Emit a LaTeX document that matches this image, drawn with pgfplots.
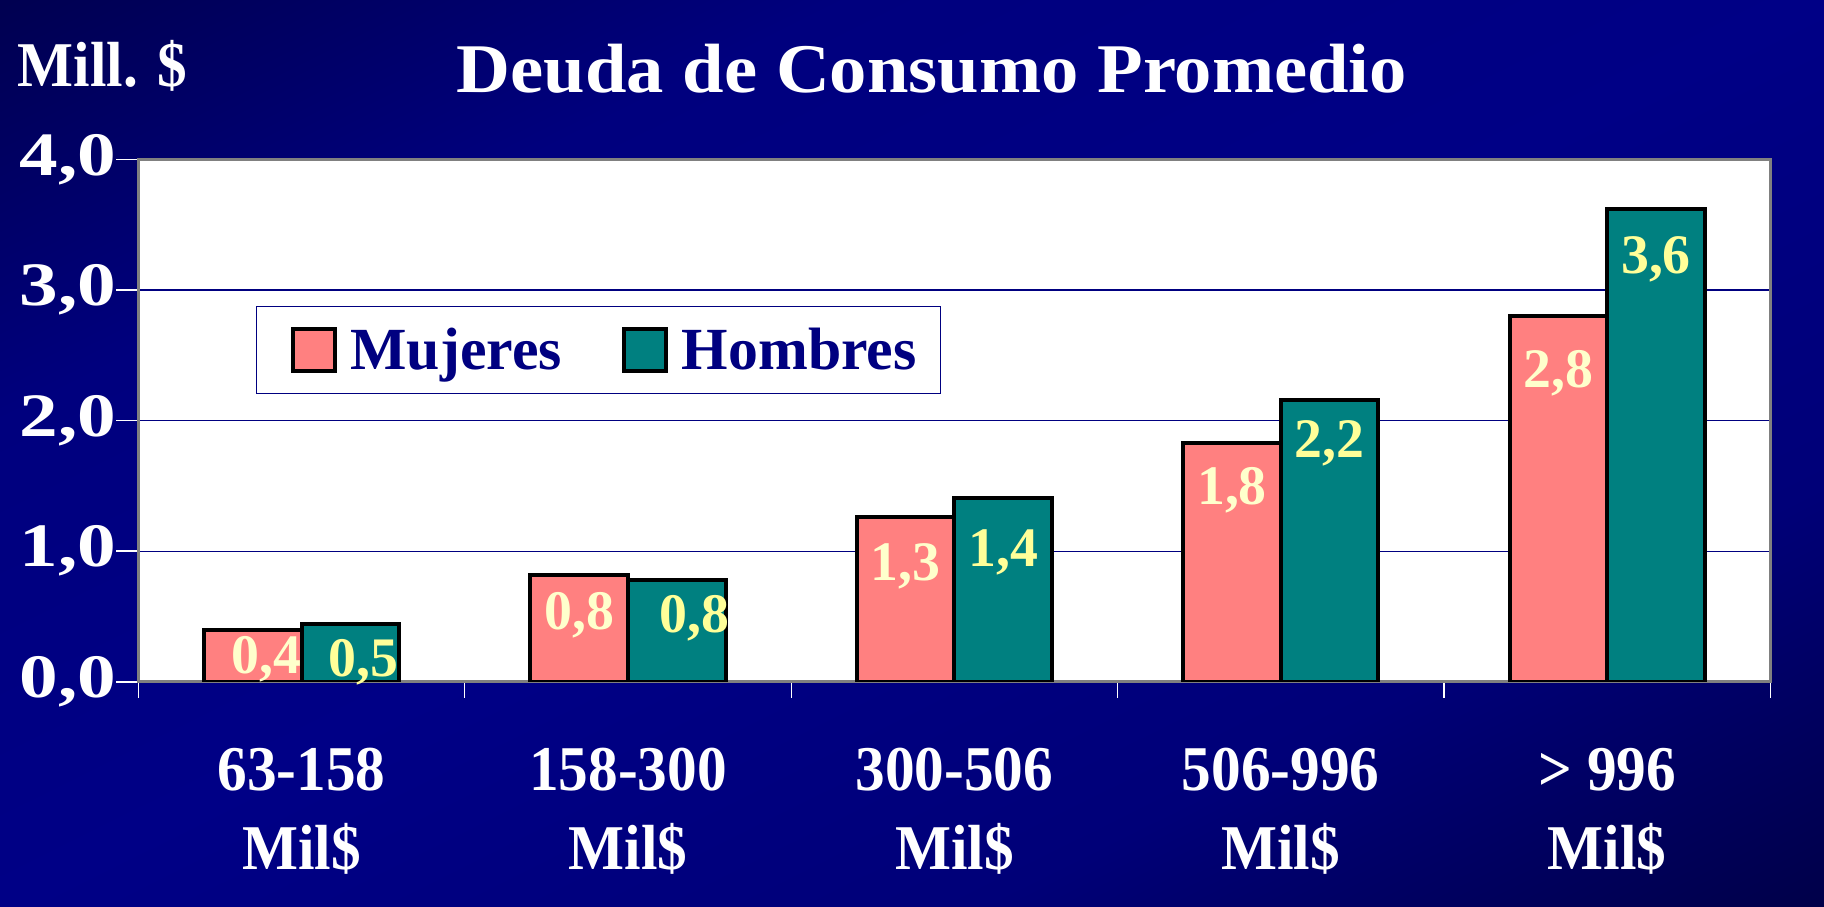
\documentclass[border=0pt]{standalone}
\usepackage{fontspec}
\setmainfont{Liberation Serif}
\newfontfamily\widefont[FakeStretch=1.25]{Liberation Serif}
\newfontfamily\titlefont[FakeStretch=1.07]{Liberation Serif}
\newfontfamily\narrowfont[FakeStretch=0.93]{Liberation Serif}
\usepackage{pgfplots}
\pgfplotsset{compat=1.18}
\usepackage{pgfplotstable}
\definecolor{navy}{HTML}{000080}
\definecolor{pinkbar}{HTML}{FF8080}
\definecolor{tealbar}{HTML}{008080}
\definecolor{lblpink}{HTML}{FFFFCC}
\definecolor{lblteal}{HTML}{FFFF99}
\definecolor{bgA}{HTML}{000024}
\definecolor{bgB}{HTML}{000036}
\definecolor{bgC}{HTML}{000078}
\definecolor{bgD}{HTML}{000086}
\definecolor{bgE}{HTML}{00007E}
\definecolor{bgF}{HTML}{00003E}
\definecolor{bgG}{HTML}{00002C}
\pgfdeclareverticalshading{bgshade}{100bp}{color(0bp)=(bgA); color(10bp)=(bgB); color(32bp)=(bgC); color(50bp)=(bgD); color(68bp)=(bgE); color(90bp)=(bgF); color(100bp)=(bgG)}

\pgfplotstableread{
x y lab dx dy
0 0.40 0,4 7 0.7
1 0.82 0,8 0 -4.5
2 1.26 1,3 0 -8.6
3 1.83 1,8 0 -8
4 2.80 2,8 0 -12.6
}\mujeres
\pgfplotstableread{
x y lab dx dy
0 0.44 0,5 6.4 -3.4
1 0.78 0,8 9 -3.4
2 1.41 1,4 0 -11.5
3 2.16 2,2 0 -6.3
4 3.62 3,6 0 -9.2
}\hombres

\pgfplotsset{mylegend/.style={legend image code/.code={%
  \path (-7bp,0bp) (26bp,0bp);
  \draw[##1, draw=black, line width=2bp] (0bp,-10.5bp) rectangle (21bp,10.5bp);}}}

\begin{document}
\begin{tikzpicture}
\shade[shading=bgshade, shading angle=26.4] (0,0) rectangle (912bp,453.5bp);
\node[anchor=base west, text=white, font=\narrowfont\fontsize{32}{32}\selectfont\bfseries, inner sep=0] at (8.7bp,410bp) {Mill. \$};
\node[anchor=base, text=white, font=\titlefont\fontsize{35}{35}\selectfont\bfseries, inner sep=0] at (466bp,407bp) {Deuda de Consumo Promedio};
\begin{axis}[
  at={(69.2bp,112.6bp)}, anchor=south west,
  scale only axis, width=816bp, height=261.2bp,
  xmin=-0.5, xmax=4.5, ymin=0, ymax=4,
  ybar=0pt, bar width=48.8bp,
  axis background/.style={fill=white},
  axis line style={draw=gray, line width=1.5bp},
  ymajorgrids, grid style={navy, line width=0.6bp},
  tick align=outside, tick pos=left,
  major tick length=11bp, minor tick length=8bp,
  xtick={0,1,2,3,4},
  xticklabels={{63-158\\Mil\$},{158-300\\Mil\$},{300-506\\Mil\$},{506-996\\Mil\$},{> 996\\Mil\$}},
  minor xtick={-0.5,0.5,1.5,2.5,3.5,4.5},
  major x tick style={draw=none},
  minor x tick style={draw=white, line width=0.6bp},
  ytick={0,1,2,3,4},
  yticklabels={{0,0},{1,0},{2,0},{3,0},{4,0}},
  y tick style={draw=white, line width=0.75bp},
  yticklabel style={font=\widefont\fontsize{31}{31}\selectfont\bfseries, text=white, inner sep=0pt},
  xticklabel style={align=center, text=white, font=\narrowfont\fontsize{32}{39.5}\selectfont\bfseries, anchor=north, inner sep=0pt, yshift=-22bp},
  legend style={at={(0.072,0.719)}, anchor=north west, draw=navy, line width=0.6bp, fill=white,
    text=navy, font=\fontsize{30}{30}\selectfont\bfseries, inner xsep=10bp, inner ysep=8.5bp,
    /tikz/every even column/.append style={column sep=21bp}},
  legend columns=2,
  visualization depends on={\thisrow{dx} \as \ldx},
  visualization depends on={\thisrow{dy} \as \ldy},
]
\addplot[fill=pinkbar, draw=black, line width=2bp, mylegend,
  nodes near coords, point meta=explicit symbolic,
  every node near coord/.append style={anchor=north, xshift=\ldx bp, yshift=\ldy bp, text=lblpink, font=\fontsize{28}{28}\selectfont\bfseries}]
  table[x=x, y=y, meta=lab]{\mujeres};
\addplot[fill=tealbar, draw=black, line width=2bp, mylegend,
  nodes near coords, point meta=explicit symbolic,
  every node near coord/.append style={anchor=north, xshift=\ldx bp, yshift=\ldy bp, text=lblteal, font=\fontsize{28}{28}\selectfont\bfseries}]
  table[x=x, y=y, meta=lab]{\hombres};
\legend{Mujeres, Hombres}
\end{axis}
\pgfresetboundingbox
\useasboundingbox (0,0) rectangle (912bp,453.5bp);
\end{tikzpicture}
\end{document}
